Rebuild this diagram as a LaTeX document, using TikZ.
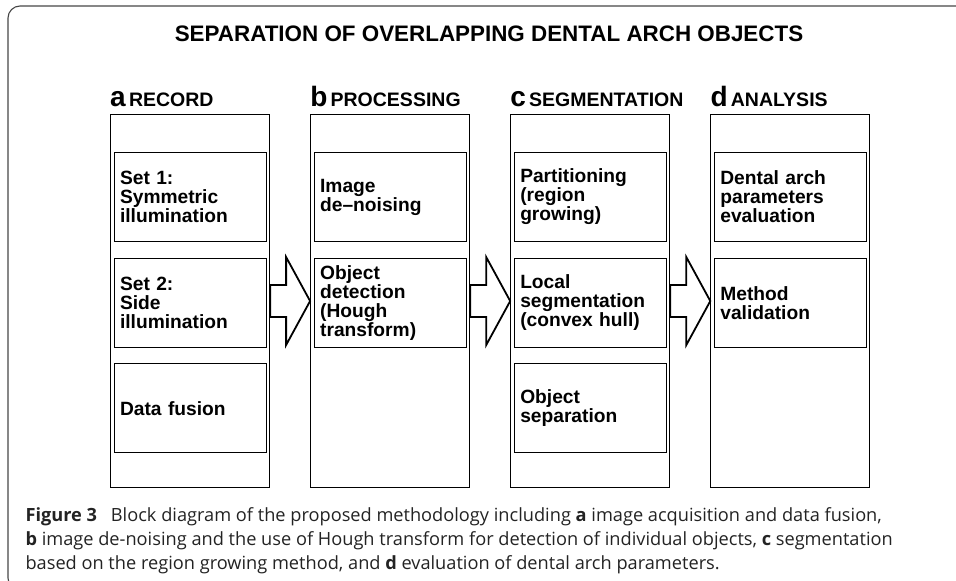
\documentclass[tikz,border=0pt]{standalone}
\usepackage{fontspec}
\setmainfont{Liberation Sans}
\newfontfamily\capfont{Open Sans}
\usetikzlibrary{chains,positioning}
\definecolor{framegray}{RGB}{70,70,70}
\definecolor{capgray}{RGB}{35,35,35}

\begin{document}
\begin{tikzpicture}[x=1pt,y=-1pt,
  line width=1.1pt,
  colbox/.style={draw,minimum width=159pt,minimum height=373pt,inner sep=0pt},
  stepbox/.style={draw,minimum width=152pt,minimum height=89pt,text width=140pt,
    inner xsep=6pt,align=left,font=\fontsize{19.2}{19}\selectfont\bfseries},
  headtext/.style={anchor=base west,inner sep=0pt,font=\fontsize{19.5}{19.5}\selectfont\bfseries},
  bigletter/.style={font=\fontsize{28}{28}\selectfont\bfseries},
  bigarrow/.style={draw,line width=1.8pt,fill=white,line join=miter},
  captext/.style={anchor=north west,inner sep=0pt,align=left,text=capgray,
    font=\capfont\fontsize{18.2}{24}\selectfont}
]
\clip (0,0) rectangle (956,581);

% the frame
\draw[framegray,rounded corners=12pt] (8,6) rectangle (1000,590);

% the title
\node[anchor=base,inner sep=0pt,font=\fontsize{22.4}{22.4}\selectfont\bfseries] (title) at (489,41)
  {SEPARATION OF OVERLAPPING DENTAL ARCH OBJECTS};

% the columns
\begin{scope}[start chain=going right,node distance=40pt]
\node[colbox,on chain,anchor=north west] (colA) at (110,114) {};
\foreach \c in {B,C,D}
  \node[colbox,on chain] (col\c) {};
\end{scope}

% the column headings
\node[headtext] (headA) at ([yshift=8pt]colA.north west) {\tikz[baseline]\node[bigletter,inner sep=0pt,anchor=base]{a};\,RECORD};
\node[headtext] (headB) at ([yshift=8pt]colB.north west) {\tikz[baseline]\node[bigletter,inner sep=0pt,anchor=base]{b};\,PROCESSING};
\node[headtext] (headC) at ([yshift=8pt]colC.north west) {\tikz[baseline]\node[bigletter,inner sep=0pt,anchor=base]{c};\,SEGMENTATION};
\node[headtext] (headD) at ([yshift=8pt]colD.north west) {\tikz[baseline]\node[bigletter,inner sep=0pt,anchor=base]{d};\,ANALYSIS};

% the steps of a
\begin{scope}[start chain=going below,node distance=15.5pt]
\node[stepbox,on chain,below=38pt of colA.north] (a1) {Set 1:\\Symmetric\\illumination};
\node[stepbox,on chain] (a2) {Set 2:\\Side\\illumination};
\node[stepbox,on chain] (a3) {Data fusion};
\end{scope}

% the steps of b
\begin{scope}[start chain=going below,node distance=15.5pt]
\node[stepbox,on chain,below=38pt of colB.north] (b1) {Image\\de--noising};
\node[stepbox,on chain] (b2) {Object\\detection\\(Hough\\transform)};
\end{scope}

% the steps of c
\begin{scope}[start chain=going below,node distance=15.5pt]
\node[stepbox,on chain,below=38pt of colC.north] (c1) {Partitioning\\(region\\growing)};
\node[stepbox,on chain] (c2) {Local\\segmentation\\(convex hull)};
\node[stepbox,on chain] (c3) {Object\\separation};
\end{scope}

% the steps of d
\begin{scope}[start chain=going below,node distance=15.5pt]
\node[stepbox,on chain,below=38pt of colD.north] (d1) {Dental arch\\parameters\\evaluation};
\node[stepbox,on chain] (d2) {Method\\validation};
\end{scope}

% the arrows
\foreach \s/\t in {colA/colB,colB/colC,colC/colD}
  \draw[bigarrow] (\s.east) ++(0,-16) -- ++(16,0) -- ++(0,-28) -- (\t.west)
    -- ++(-24,44) -- ++(0,-28) -- ++(-16,0) -- cycle;

% the caption
\node[captext] (caption) at (25,507) {\textbf{Figure 3}\hspace{0.5em} Block diagram of the proposed methodology including \textbf{a} image acquisition and data fusion,\\
\textbf{b} image de-noising and the use of Hough transform for detection of individual objects, \textbf{c} segmentation\\
based on the region growing method, and \textbf{d} evaluation of dental arch parameters.};
\end{tikzpicture}
\end{document}
